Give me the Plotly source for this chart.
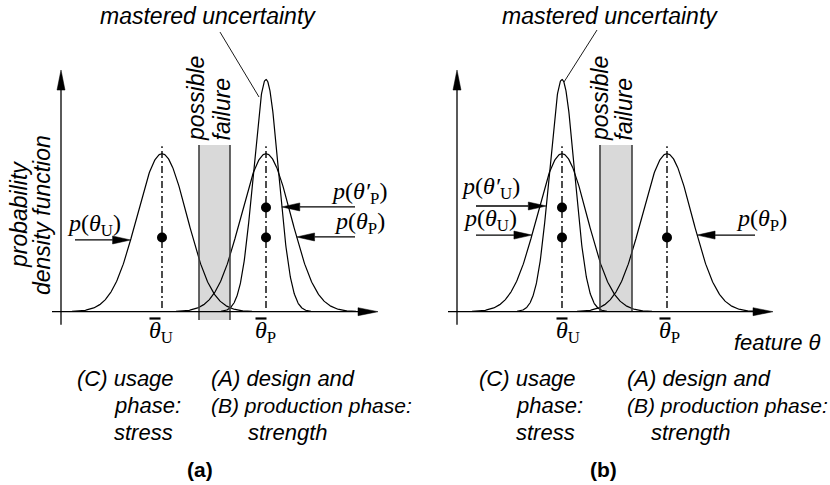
import numpy as np
import plotly.graph_objects as go

# ---------------- data (feature axis units, pdf amplitude units) ----------------
panel_names = ["(a)", "(b)"]
mean_U = [16.2, 14.7]          # usage (stress) mean per panel
mean_P = [26.6, 25.2]          # production (strength) mean per panel
sigma_wide = 2.5
sigma_narrow = 1.25
peak_wide = 1.0
peak_narrow = 1.47
mastered = ["P", "U"]          # which distribution is narrowed in each panel
failure_lo = [19.9, 18.5]
failure_hi = [23.0, 21.7]
failure_bottom = [-0.053, 0.0]
failure_top = 1.055
dot_low = 0.47
dot_high = 0.66
yaxis_x = [6.1, 4.2]
xaxis_start = [5.2, 3.3]
xaxis_tip = [37.8, 35.8]

XR = [0, 41.5]
YR = [-1.097, 1.973]

fig = go.Figure()
refs = [("x", "y"), ("x2", "y2")]
shapes = []
annotations = []

SANS = "Liberation Sans"
SERIF = "Liberation Serif"


def gauss(x, mu, s, a):
    return a * np.exp(-0.5 * ((x - mu) / s) ** 2)


def cross(mu, s, a, yv, side):
    return mu + side * s * np.sqrt(2 * np.log(a / yv))


def tri(xr, yr, pts, color="black"):
    p = "M " + " L ".join(f"{x},{y}" for x, y in pts) + " Z"
    shapes.append(dict(type="path", path=p, xref=xr, yref=yr, fillcolor=color,
                       line=dict(color=color, width=0.5)))


def line(xr, yr, x0, y0, x1, y1, color="black", width=1.3, dash="solid", layer="above"):
    shapes.append(dict(type="line", xref=xr, yref=yr, x0=x0, y0=y0, x1=x1, y1=y1,
                       line=dict(color=color, width=width, dash=dash), layer=layer))


def text(xr, yr, x, y, s, size=22, family=SANS, xanchor="center", yanchor="middle", angle=0):
    annotations.append(dict(xref=xr, yref=yr, x=x, y=y, text=s, showarrow=False,
                            xanchor=xanchor, yanchor=yanchor, textangle=angle,
                            borderpad=0,
                            font=dict(family=family, size=size, color="black")))


dy_px = (YR[1] - YR[0]) / 485.0
dx_px = (XR[1] - XR[0]) / 415.0

# offsets (feature units) of the mean-label left edge from each mean
mean_label_off_U = [-1.4, -0.7]
mean_label_off_P = [-1.2, -0.9]

for i in range(2):
    xr, yr = refs[i]
    mu_u, mu_p = mean_U[i], mean_P[i]
    dists = {"U": (mu_u, sigma_wide, peak_wide), "P": (mu_p, sigma_wide, peak_wide)}
    narrow = (mean_P[i] if mastered[i] == "P" else mean_U[i], sigma_narrow, peak_narrow)
    curves = [dists["U"], dists["P"], narrow]
    for mu, s, a in curves:
        xs = np.linspace(mu - 3.6 * s, mu + 3.6 * s, 300)
        fig.add_trace(go.Scatter(x=xs, y=gauss(xs, mu, s, a), mode="lines",
                                 line=dict(color="black", width=1.2),
                                 xaxis=xr, yaxis=yr, hoverinfo="skip", showlegend=False))

    # failure zone
    shapes.append(dict(type="rect", xref=xr, yref=yr, x0=failure_lo[i], x1=failure_hi[i],
                       y0=failure_bottom[i], y1=failure_top, fillcolor="#d9d9d9",
                       line=dict(width=0), layer="below"))
    for xv in (failure_lo[i], failure_hi[i]):
        line(xr, yr, xv, failure_bottom[i], xv, failure_top, color="#404040", width=1.6)

    # axes
    ya = yaxis_x[i]
    line(xr, yr, ya, -13 * dy_px, ya, 1.41)
    tri(xr, yr, [(ya - 4 * dx_px, 1.403), (ya + 4 * dx_px, 1.403), (ya, 1.530)])
    line(xr, yr, xaxis_start[i], 0, xaxis_tip[i] - 1.8, 0)
    tri(xr, yr, [(xaxis_tip[i] - 2.0, 4 * dy_px), (xaxis_tip[i] - 2.0, -4 * dy_px), (xaxis_tip[i], 0)])

    # mean dash-dot lines
    for mu in (mu_u, mu_p):
        line(xr, yr, mu, 0.023, mu, 1.048, width=1.4, dash="7px,3px,2px,3px")

    # dots
    fig.add_trace(go.Scatter(x=[mu_u, mu_p, narrow[0]], y=[dot_low, dot_low, dot_high],
                             mode="markers", marker=dict(color="black", size=10),
                             xaxis=xr, yaxis=yr, hoverinfo="skip", showlegend=False))

    # arrows with labels
    if i == 0:
        arrows = [
            ("<i>p</i>(<i>θ</i><sub>U</sub>)", dists["U"], -1, 0.454, 7.5, 9.35, 0.549),
            ("<i>p</i>(<i>θ′</i><sub>P</sub>)", narrow, 1, 0.663, 35.5, 35.9, 0.751),
            ("<i>p</i>(<i>θ</i><sub>P</sub>)", dists["P"], 1, 0.473, 35.5, 35.9, 0.561),
        ]
    else:
        arrows = [
            ("<i>p</i>(<i>θ′</i><sub>U</sub>)", narrow, -1, 0.669, 6.1, 7.5, 0.783),
            ("<i>p</i>(<i>θ</i><sub>U</sub>)", dists["U"], -1, 0.485, 6.1, 7.5, 0.580),
            ("<i>p</i>(<i>θ</i><sub>P</sub>)", dists["P"], 1, 0.485, 34.0, 34.6, 0.580),
        ]
    for lab, (mu, s, a), side, yv, tail, lx, ly in arrows:
        tip = cross(mu, s, a, yv, side)
        d = 1.8 if side < 0 else -1.8
        base = tip - d
        line(xr, yr, tail, yv, base, yv, width=1.3)
        tri(xr, yr, [(base, yv + 4 * dy_px), (base, yv - 4 * dy_px), (tip, yv)])
        text(xr, yr, lx, ly, lab, size=24, family=SERIF)

    # mastered uncertainty + possible failure
    if i == 0:
        text(xr, yr, 20.8, 1.871, "<i>mastered uncertainty</i>", size=23)
        line(xr, yr, 22.0, 1.770, 25.9, 1.359, width=0.9)
        text(xr, yr, 19.6, 1.346, "<i>possible</i>", size=23, angle=-90)
        text(xr, yr, 22.25, 1.283, "<i>failure</i>", size=23, angle=-90)
    else:
        text(xr, yr, 19.5, 1.871, "<i>mastered uncertainty</i>", size=23)
        line(xr, yr, 18.2, 1.783, 14.9, 1.454, width=0.9)
        text(xr, yr, 18.5, 1.346, "<i>possible</i>", size=23, angle=-90)
        text(xr, yr, 20.95, 1.283, "<i>failure</i>", size=23, angle=-90)

    # mean labels (theta with overbar)
    for mu, off, sub in ((mu_u, mean_label_off_U[i], "U"), (mu_p, mean_label_off_P[i], "P")):
        left = mu + off
        text(xr, yr, left, -0.129, "<i>θ</i><sub>" + sub + "</sub>", size=24,
             family=SERIF, xanchor="left")
        line(xr, yr, left + 0.15, -0.043, left + 1.25, -0.043, width=2.2)

    # bottom captions
    cx = [(7.6, 11.3, 21.0, 24.7), (6.3, 10.0, 21.1, 23.5)][i]
    text(xr, yr, cx[0], -0.422, "<i>(C) usage</i>", xanchor="left")
    text(xr, yr, cx[1], -0.593, "<i>phase:</i>", xanchor="left")
    text(xr, yr, cx[1], -0.764, "<i>stress</i>", xanchor="left")
    text(xr, yr, cx[2], -0.422, "<i>(A) design and</i>", xanchor="left")
    text(xr, yr, cx[2], -0.593, "<i>(B) production phase:</i>", size=21, xanchor="left")
    text(xr, yr, cx[3], -0.764, "<i>strength</i>", xanchor="left")
    text(xr, yr, [20.0, 18.8][i], -1.002, "<b>" + panel_names[i] + "</b>", size=21)

# y-axis title (panel a) and feature label (panel b)
text("x", "y", 1.9, 0.612, "<i>probability</i>", size=23, angle=-90)
text("x", "y", 4.2, 0.612, "<i>density function</i>", size=23, angle=-90)
text("x2", "y2", 36.2, -0.198, "<i>feature θ</i>")

ax = dict(visible=False, range=XR, fixedrange=True)
ay = dict(visible=False, range=YR, fixedrange=True)
fig.update_layout(
    width=830, height=485, margin=dict(l=0, r=0, t=0, b=0),
    paper_bgcolor="white", plot_bgcolor="white",
    xaxis=dict(ax, domain=[0, 0.5], anchor="y"),
    xaxis2=dict(ax, domain=[0.5, 1], anchor="y2"),
    yaxis=dict(ay, domain=[0, 1], anchor="x"),
    yaxis2=dict(ay, domain=[0, 1], anchor="x2"),
    shapes=shapes, annotations=annotations, showlegend=False,
)
fig.write_html("out.html")
